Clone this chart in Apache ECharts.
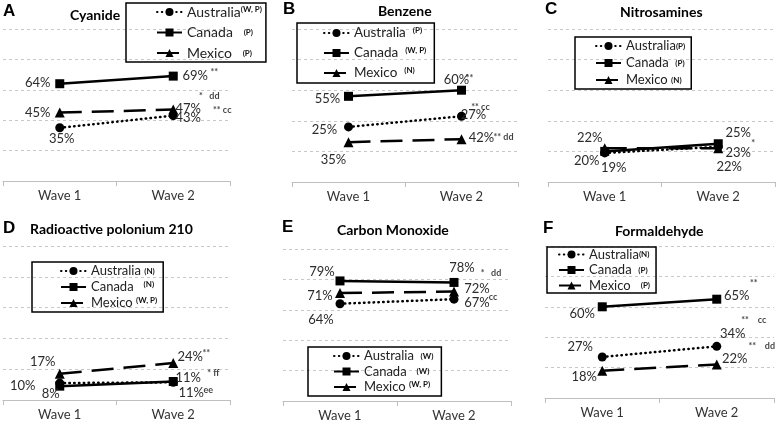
<!DOCTYPE html>
<html><head><meta charset="utf-8">
<script src="https://cdn.jsdelivr.net/npm/echarts@6/dist/echarts.min.js"></script>
<style>html,body{margin:0;padding:0;background:#fff}#c{width:777px;height:423px}</style>
</head><body><div id="c"></div>
<script>
// ---------- content ----------
const waves = ['Wave 1', 'Wave 2'];
const panelLetters = ['A', 'B', 'C', 'D', 'E', 'F'];
const panelTitles = ['Cyanide', 'Benzene', 'Nitrosamines', 'Radioactive polonium 210', 'Carbon Monoxide', 'Formaldehyde'];
const countries = ['Australia', 'Canada', 'Mexico'];

// plotted values (Wave 1, Wave 2) per panel
const australia = [[35, 43], [36, 43], [19, 23], [11, 11.5], [64, 67], [27, 34]];
const canada    = [[64, 69], [56, 60], [20, 25], [9, 12],    [79, 78], [60, 65]];
const mexico    = [[45, 47], [26, 28], [22, 22], [17, 24],   [71, 72], [18, 22]];

// printed labels
const australiaLabels = [['35%', '43%'], ['25%', '27%'], ['19%', '23%'], ['10%', '11%'], ['64%', '67%'], ['27%', '34%']];
const canadaLabels    = [['64%', '69%'], ['55%', '60%'], ['20%', '25%'], ['8%', '11%'],  ['79%', '78%'], ['60%', '65%']];
const mexicoLabels    = [['45%', '47%'], ['35%', '42%'], ['22%', '22%'], ['17%', '24%'], ['71%', '72%'], ['18%', '22%']];

// significance marks at wave 2
const australiaSig = ['** cc', '** cc', '*', '* ff', 'cc', '**    cc'];
const canadaSig    = ['**', '**', '', 'ee', '*   dd', '**'];
const mexicoSig    = ['*   dd', '** dd', '', '**', '', '**    dd'];

// legend notes
const australiaNote = ['(W, P)', '(P)', '(P)', '(N)', '(W)', '(N)'];
const canadaNote    = ['(P)', '(W, P)', '(P)', '(N)', '(W)', '(P)'];
const mexicoNote    = ['(P)', '(N)', '(N)', '(W, P)', '(W, P)', '(P)'];

// ---------- layout / style ----------
const FONT = 'Lato, "Open Sans", sans-serif';
const grids = [
  {left: 3,   top: 29,  width: 227, height: 152},
  {left: 292, top: 29,  width: 226, height: 153},
  {left: 548, top: 29,  width: 227, height: 153},
  {left: 3,   top: 246, width: 227, height: 154},
  {left: 283, top: 249, width: 228, height: 152},
  {left: 545, top: 246, width: 229, height: 152}
];
const titlePos = [
  {lx: 3, ly: 11, tx: 70, ty: 15}, {lx: 283, ly: 9, tx: 378, ty: 11}, {lx: 545, ly: 9, tx: 620, ty: 12},
  {lx: 3, ly: 228, tx: 30, ty: 229}, {lx: 282, ly: 227, tx: 337, ty: 230}, {lx: 543, ly: 228, tx: 615, ty: 231}
];
const legendLayout = [
  {left: 126, top: 3,   pad: [2, 4, 2, 30], gap: 6.5, fs: 14, lh: 14, pre: ['', '   ', '   '], raise: [true, false, false]},
  {left: 297, top: 23,  pad: [3, 8, 3, 26], gap: 6,   fs: 13.5, lh: 14, pre: ['  ', '  ', '  '], raise: [true, true, true]},
  {left: 575, top: 37,  pad: [2, 6, 2, 20], gap: 3,   fs: 13, lh: 14, pre: ['', '  ', ' '], raise: [false, false, false]},
  {left: 32,  top: 262, pad: [2, 6, 2, 28], gap: 2,   fs: 13, lh: 14, pre: [' ', '   ', ' '], raise: [false, true, true]},
  {left: 308, top: 347, pad: [2, 8, 2, 25], gap: 1.5, fs: 13, lh: 14, pre: ['  ', '   ', ' '], raise: [false, false, true]},
  {left: 547, top: 247, pad: [1, 6, 1, 11], gap: 2.5, fs: 13, lh: 13, pre: ['', '  ', '   '], raise: [false, false, false]}
];
// label offsets: panel -> [australia, canada, mexico] -> [w1, w2]
const labelOffsets = [
  [[[2, 11], [15, 2]],    [[-22, -1], [22, 0]],  [[-22, 0], [15, -1]]],
  [[[-24, 3], [12, -1]],  [[-21, 2], [-5, -10]], [[-15, 18], [20, -1]]],
  [[[9, 15], [20, 6]],    [[-18, 9], [20, -11]], [[-15, -11], [11, 18]]],
  [[[-37, 3], [15, -4]],  [[-9, 8], [18, 11]],   [[-17, -12], [17, -6]]],
  [[[-19, 16], [23, 4]],  [[-18, -9], [8, -15]], [[-20, 3], [23, -3]]],
  [[[-22, -10], [16, -13]], [[-20, 7], [20, -3]], [[-18, 6], [18, -6]]]
];
const sigOffsets = [
  [[49, -6], [41, -4], [36, -13]],
  [[19, -9], [8, -12], [42, -2]],
  [[35, -4], [0, 0], [0, 0]],
  [[40, -9], [35, 9], [33, -10]],
  [[39, -2], [37, -9], [0, 0]],
  [[37, -26], [37, -16], [45, -18]]
];
const seriesStyle = {
  Australia: {symbol: 'circle', symbolSize: 9, lineStyle: {color: '#000', width: 2.5, type: [0.5, 4.3], cap: 'round'}},
  Canada:    {symbol: 'rect', symbolSize: 9, lineStyle: {color: '#000', width: 2.5, type: 'solid'}},
  Mexico:    {symbol: 'triangle', symbolSize: 10, lineStyle: {color: '#000', width: 2.5, type: [22, 10]}}
};

const valuesBy = {Australia: australia, Canada: canada, Mexico: mexico};
const labelsBy = {Australia: australiaLabels, Canada: canadaLabels, Mexico: mexicoLabels};
const sigBy = {Australia: australiaSig, Canada: canadaSig, Mexico: mexicoSig};
const noteBy = {Australia: australiaNote, Canada: canadaNote, Mexico: mexicoNote};

const option = {
  animation: false,
  backgroundColor: '#fff',
  grid: [], xAxis: [], yAxis: [], series: [], legend: [], graphic: []
};

for (let p = 0; p < 6; p++) {
  const g = grids[p];
  option.grid.push({left: g.left, top: g.top, width: g.width, height: g.height, containLabel: false});
  option.xAxis.push({
    type: 'category', gridIndex: p, data: waves, boundaryGap: true,
    axisLine: {lineStyle: {color: '#bfbfbf', width: 1}},
    axisTick: {show: true, length: 5, lineStyle: {color: '#bfbfbf'}},
    axisLabel: {fontSize: 13, color: '#333', fontFamily: FONT, margin: 8},
    splitLine: {show: false}
  });
  option.yAxis.push({
    type: 'value', gridIndex: p, min: 0, max: 100, interval: 20,
    axisLabel: {show: false}, axisLine: {show: false}, axisTick: {show: false},
    splitLine: {lineStyle: {color: '#c8c8c8', width: 1, type: [3, 3]}}
  });
  countries.forEach((c, ci) => {
    const st = seriesStyle[c];
    option.series.push({
      type: 'line', name: c, xAxisIndex: p, yAxisIndex: p,
      symbol: st.symbol, symbolSize: st.symbolSize, showSymbol: true,
      lineStyle: st.lineStyle, itemStyle: {color: '#000'}, z: 3,
      label: {show: true, position: ['50%', '50%'], align: 'center', verticalAlign: 'middle',
              fontSize: 13, color: '#2b2b2b', fontFamily: FONT},
      data: valuesBy[c][p].map((v, i) => ({
        value: v,
        label: {formatter: labelsBy[c][p][i], offset: labelOffsets[p][ci][i]}
      }))
    });
    const sig = sigBy[c][p];
    if (sig) {
      option.series.push({
        type: 'scatter', name: c + ' sig', xAxisIndex: p, yAxisIndex: p, silent: true,
        symbol: 'circle', symbolSize: 1, itemStyle: {color: 'rgba(0,0,0,0)'}, z: 4,
        label: {show: true, position: ['50%', '50%'], align: 'center', verticalAlign: 'middle',
                fontSize: 9, fontWeight: 'bold', color: '#111', fontFamily: FONT,
                formatter: sig, offset: sigOffsets[p][ci]},
        data: [[waves[1], valuesBy[c][p][1]]]
      });
    }
  });
  const L = legendLayout[p];
  option.legend.push({
    data: countries, orient: 'vertical', left: L.left, top: L.top, padding: L.pad,
    itemGap: L.gap, itemWidth: 25, itemHeight: 10, selectedMode: false,
    borderColor: '#000', borderWidth: 1.5, borderRadius: 0, align: 'left',
    textStyle: {fontSize: L.fs, fontFamily: FONT, color: '#222', lineHeight: L.lh,
      rich: {
        u: {fontSize: 8, fontWeight: 'bold', fontFamily: FONT, color: '#111', verticalAlign: 'top', lineHeight: L.lh},
        m: {fontSize: 8, fontWeight: 'bold', fontFamily: FONT, color: '#111', verticalAlign: 'middle', lineHeight: L.lh}
      }},
    formatter: (name) => {
      const ci = countries.indexOf(name);
      const tag = L.raise[ci] ? 'u' : 'm';
      return name + L.pre[ci] + '{' + tag + '|' + noteBy[name][p] + '}';
    }
  });
  const T = titlePos[p];
  option.graphic.push({
    type: 'text', x: T.lx, y: T.ly, z: 10,
    style: {text: panelLetters[p], font: 'bold 17px "Liberation Sans", Arial, sans-serif', fill: '#000',
            verticalAlign: 'middle', textVerticalAlign: 'middle'}
  });
  option.graphic.push({
    type: 'text', x: T.tx, y: T.ty, z: 10,
    style: {text: panelTitles[p], font: 'bold 14px ' + FONT, fill: '#000',
            verticalAlign: 'middle', textVerticalAlign: 'middle'}
  });
}

const chart = echarts.init(document.getElementById('c'), null, {renderer: 'canvas'});
chart.setOption(option);
</script>
</body></html>
